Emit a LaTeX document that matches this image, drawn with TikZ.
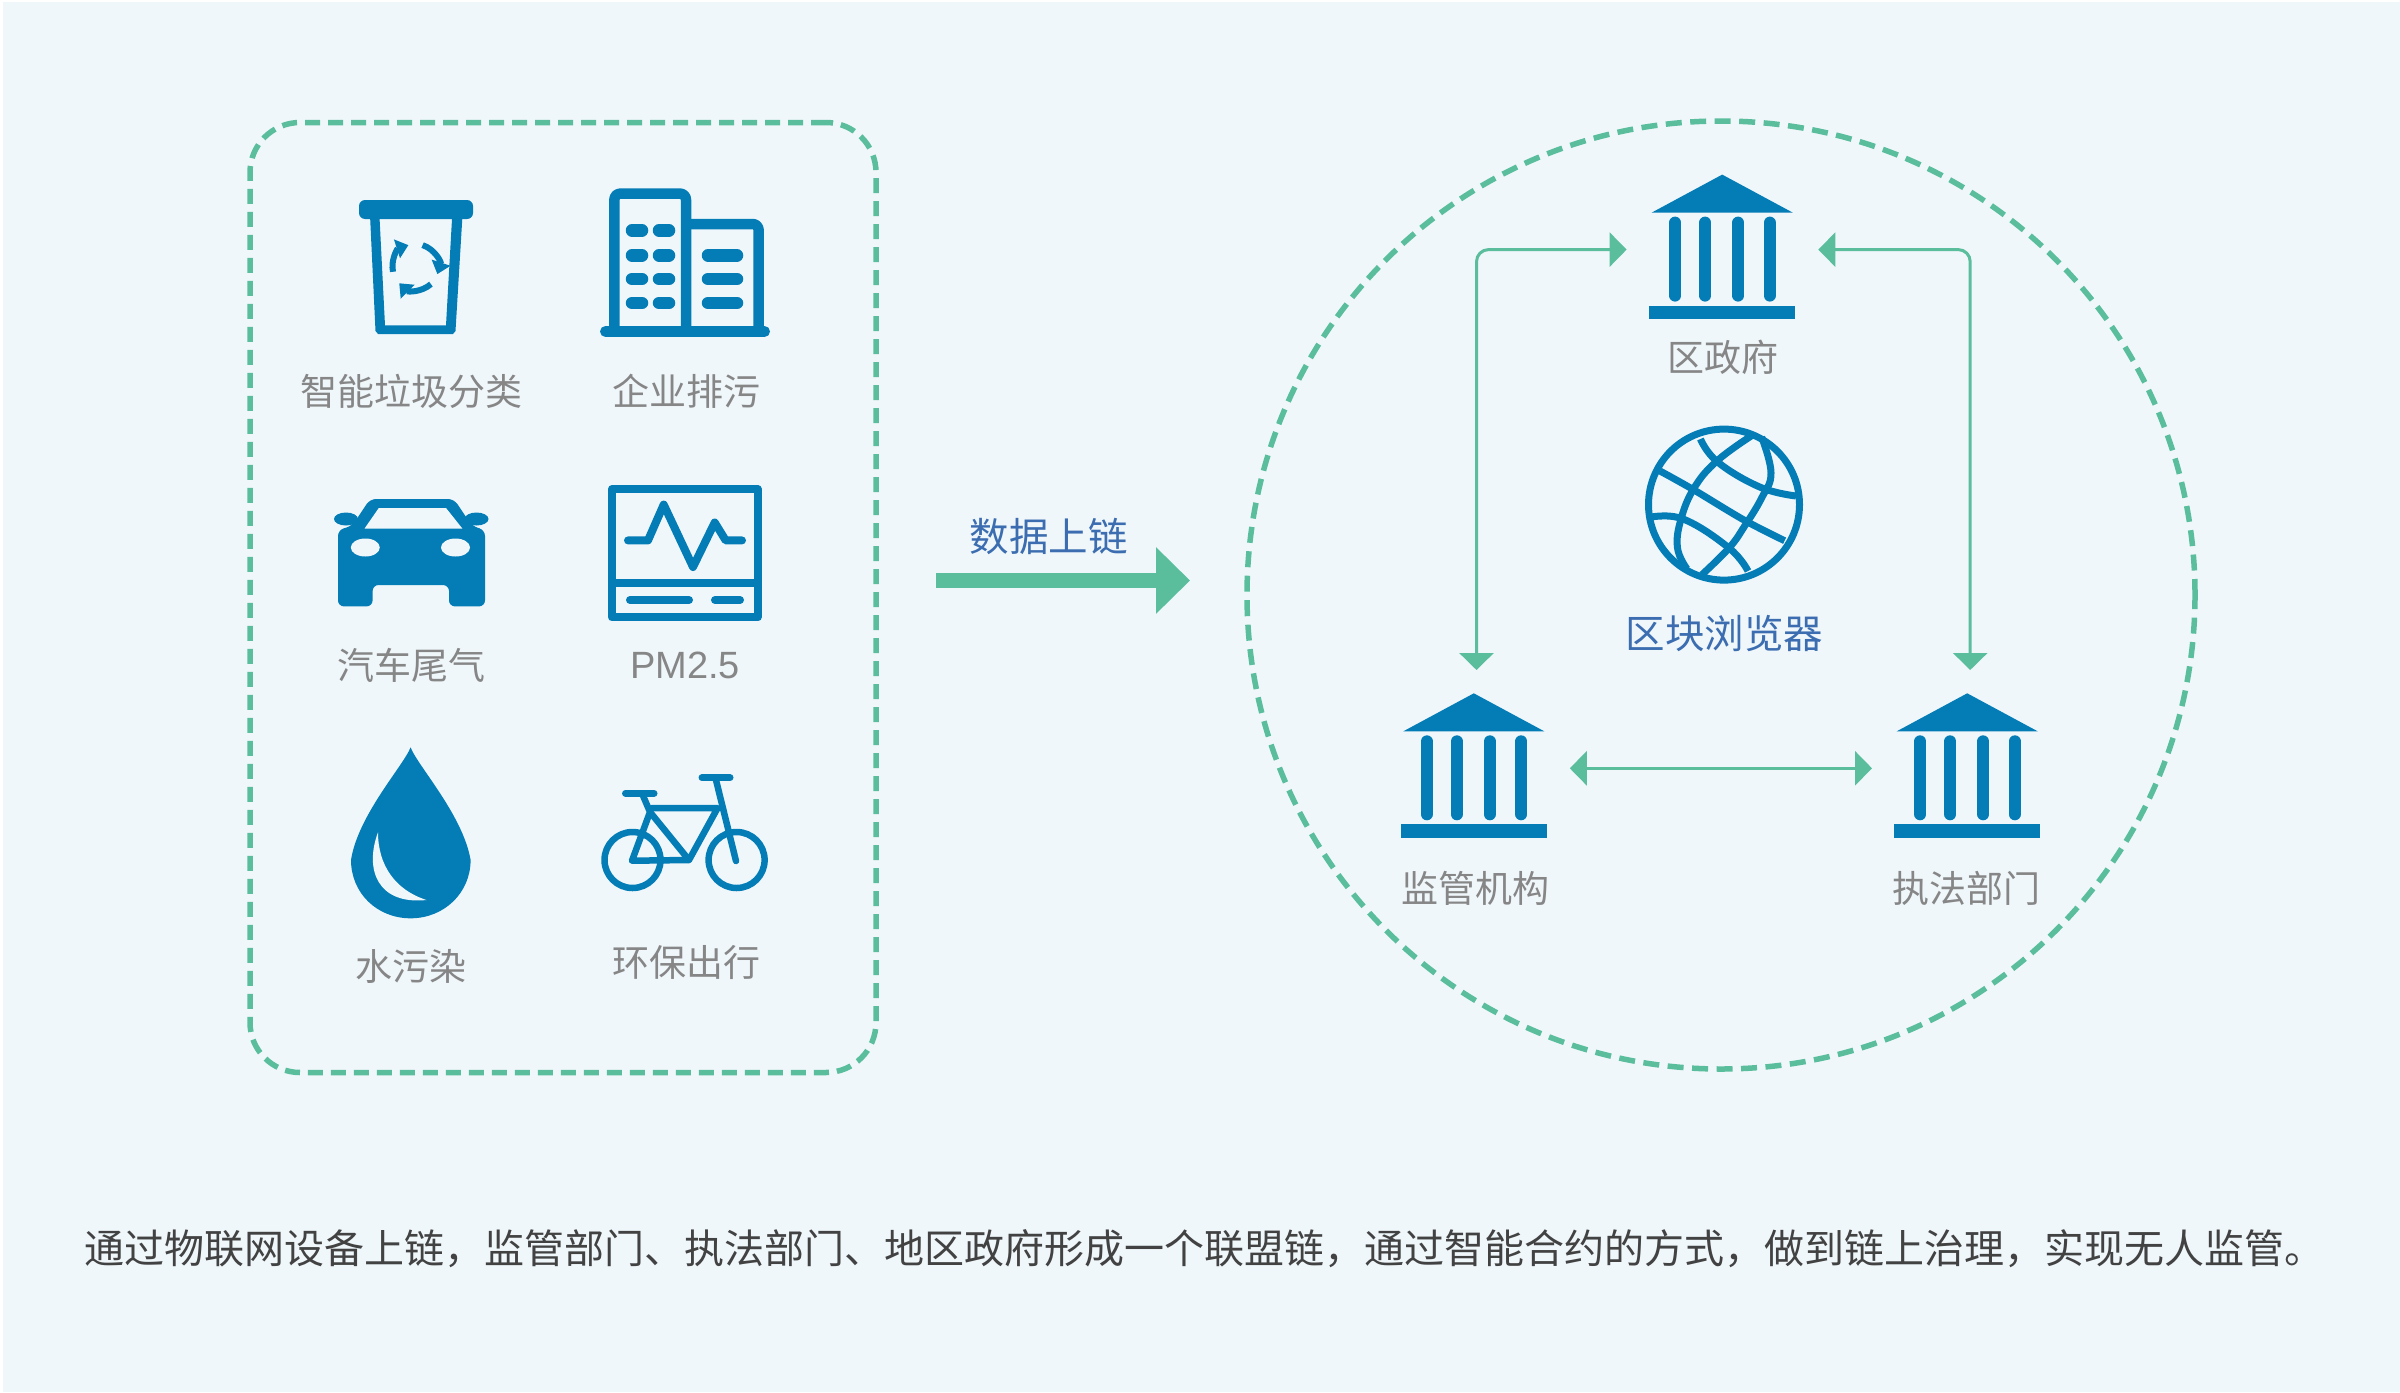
\documentclass[tikz,border=0pt]{standalone}
\usepackage{fontspec}
\setmainfont{Noto Sans CJK SC}
\newfontfamily\latinlbl{Liberation Sans}
\usetikzlibrary{arrows.meta,shapes.geometric}
\definecolor{bgc}{HTML}{EFF7FB}
\definecolor{grn}{HTML}{5ABD9B}
\definecolor{icn}{HTML}{047CB6}
\definecolor{lbl}{HTML}{868686}
\definecolor{blu}{HTML}{3B6DB0}
\definecolor{txt}{HTML}{424242}
\tikzset{
  x=1pt,y=-1pt,
  dashframe/.style={draw=grn,line width=5.5pt,dash pattern=on 15pt off 8pt,inner sep=0pt},
  link/.style={draw=grn,line width=3pt,{Triangle[length=17pt,width=34pt]}-{Triangle[length=17pt,width=34pt]}},
  iconlbl/.style={text=lbl,inner sep=0pt,font=\fontsize{37}{40}\selectfont},
  bluelbl/.style={text=blu,inner sep=0pt,font=\fontsize{39.5}{42}\selectfont},
  ic/.style={draw=icn,line join=round},
  gov/.pic={
    \fill[icn] (0,0) -- (70.5,38) -- (-70.5,38) -- cycle;
    \foreach \cx in {-47,-17,16,47.5}{\draw[icn,line width=12pt,line cap=round] (\cx,48) -- (\cx,121);}
    \fill[icn] (-73,131) rectangle (73,144.5);
  }
}
\begin{document}
\begin{tikzpicture}
\useasboundingbox (0,0) rectangle (2400,1392);
\fill[white] (0,0) rectangle (2400,1392);
\fill[bgc] (3,2) rectangle (2400,1392);

% frames
\node (leftbox) at (563,597.5) [dashframe,rounded corners=50pt,minimum width=626pt,minimum height=950pt] {};
\node (ring) at (1721,595) [dashframe,circle,minimum size=948pt,dash pattern=on 16pt off 8.5pt] {};

% bin
\fill[icn,rounded corners=6pt] (359,200) rectangle (473,219);
\fill[icn,even odd rule] (370,215) -- (375.5,331) -- (378,334) -- (453,334) -- (455.5,331) -- (462.5,215) -- cycle
  (379.6,215) -- (452,215) -- (452,219) -- (446,325.4) -- (385,325.4) -- (379.6,219) -- cycle;
\begin{scope}[line width=6pt]
\draw[icn,-{Triangle[length=12pt,width=19pt]}] ([shift={(415.5,267)}]192:23pt) arc[start angle=192,end angle=108,radius=23pt];
\draw[icn,-{Triangle[length=12pt,width=19pt]}] ([shift={(415.5,267)}]72:23pt) arc[start angle=72,end angle=-18,radius=23pt];
\draw[icn,-{Triangle[length=12pt,width=19pt]}] ([shift={(415.5,267)}]-48:23pt) arc[start angle=-48,end angle=-135,radius=23pt];
\end{scope}
\node (lbin) at (411.5,391) [iconlbl] {智能垃圾分类};

% building
\draw[ic,line width=10.5pt,rounded corners=6pt] (614.4,332) -- (614.4,193.6) -- (686,193.6) -- (686,332);
\draw[ic,line width=10.5pt,rounded corners=6pt] (686,224) -- (758.6,224) -- (758.6,332);
\draw[ic,line width=11pt,line cap=round] (605.5,331.5) -- (764.5,331.5);
\foreach \wy in {230.4,255.4,279,303}{
  \draw[ic,line width=12.5pt,line cap=round] (632,\wy) -- (642,\wy);
  \draw[ic,line width=12.5pt,line cap=round] (659,\wy) -- (669,\wy);
}
\foreach \wy in {255.4,279,303}{
  \draw[ic,line width=12.5pt,line cap=round] (708,\wy) -- (737,\wy);
}
\node (lbld) at (686,391) [iconlbl] {企业排污};

% car
\fill[icn,rounded corners=6pt] (338,548) -- (338,530) -- (352,526) -- (370,499) -- (454,499) -- (472,526) -- (485,530) -- (485,606.4) -- (449,606.4) -- (449,585) -- (372.6,585) -- (372.6,606.4) -- (338,606.4) -- cycle;
\fill[icn] (346,519) ellipse [x radius=12pt,y radius=6.5pt];
\fill[icn] (476.5,519) ellipse [x radius=12pt,y radius=6.5pt];
\fill[bgc] (378.8,508) -- (446,508) -- (462.4,528.6) -- (364.5,528.6) -- cycle;
\fill[bgc] (365.3,547.5) ellipse [x radius=14.5pt,y radius=9pt];
\fill[bgc] (455.5,547.5) ellipse [x radius=14.5pt,y radius=9pt];
\node (lcar) at (411,665) [iconlbl] {汽车尾气};

% monitor
\draw[ic,line width=8pt] (612,489) rectangle (757.6,617.4);
\draw[ic,line width=8pt] (612,583) -- (757.6,583);
\draw[ic,line width=8pt,line cap=round] (628,540.4) -- (648,540.4) -- (663.7,504.6) -- (693,567) -- (714.7,522.5) -- (725.7,540.4) -- (742,540.4);
\draw[ic,line width=8pt,line cap=round] (630,600) -- (689,600);
\draw[ic,line width=8pt,line cap=round] (715,600) -- (740,600);
\node (lpm) at (685,665) [iconlbl,font=\latinlbl\fontsize{38}{40}\selectfont] {PM2.5};

% drop
\fill[icn] (410.6,747.3) .. controls (404,765) and (358,815) .. (351,860)
  .. controls (351,893) and (377,918.3) .. (410.6,918.3)
  .. controls (444,918.3) and (470.6,893) .. (470.6,860)
  .. controls (463,815) and (417,765) .. (410.6,747.3) -- cycle;
\fill[bgc] (378,832.3) .. controls (364,870) and (378,905) .. (426.5,900)
  .. controls (395,890) and (378,865) .. (378,832.3) -- cycle;
\node (ldrop) at (411,966.7) [iconlbl] {水污染};

% bicycle
\draw[ic,line width=6.5pt] (632.5,860) circle [radius=28pt];
\draw[ic,line width=6.5pt] (736.6,860) circle [radius=28pt];
\draw[ic,line width=6.5pt,line cap=round] (642,793.3) -- (650,812) -- (689,860) -- (632,860.7) -- (650,812);
\draw[ic,line width=6.5pt,line cap=round] (652,808) -- (717.6,808) -- (689,860);
\draw[ic,line width=6.5pt,line cap=round] (715.5,778) -- (736,861);
\draw[ic,line width=7pt,line cap=round] (702,777.7) -- (730,777.7);
\draw[ic,line width=7pt,line cap=round] (625.5,793.3) -- (654,793.3);
\node (lbike) at (686,962.5) [iconlbl] {环保出行};

% flow arrow
\coordinate (flowa) at (936,580.5);
\coordinate (flowb) at (1190,580.5);
\draw[grn,line width=14.4pt,-{Triangle[length=34pt,width=64.6pt]}] (flowa) -- (flowb);
\node (lflow) at (1048.7,536) [bluelbl] {数据上链};

% government icons
\pic at (1722.2,174.6) {gov};
\pic at (1473.8,693.3) {gov};
\pic at (1967.2,693.3) {gov};
\node (lgov) at (1723.4,357) [iconlbl] {区政府};
\node (lsup) at (1475,888) [iconlbl] {监管机构};
\node (lenf) at (1966.5,888) [iconlbl] {执法部门};

% globe
\begin{scope}[icn,line width=7pt]
\draw (1724,504.6) circle [radius=75.5pt];
\draw plot[smooth,tension=.6] coordinates {(1660,471) (1694,490) (1744,520) (1784.6,540.7)};
\draw plot[smooth,tension=.7] coordinates {(1700.4,439) (1717.6,462) (1759.7,487) (1796,496)};
\draw plot[smooth,tension=.7] coordinates {(1648.8,517.5) (1683,519) (1729,548) (1748,571)};
\draw plot[smooth,tension=.7] coordinates {(1752,435.4) (1717.6,460.4) (1694.7,487) (1681,519) (1677.5,548) (1687,569)};
\draw plot[smooth,tension=.7] coordinates {(1761.6,437) (1771,473) (1761.6,498) (1744.4,526.4) (1729,548) (1702,574.6)};
\end{scope}
\node (lbrow) at (1724.6,633.6) [bluelbl] {区块浏览器};

% connectors
\coordinate (gl) at (1626.6,249.6);
\coordinate (gr) at (1818.3,249.6);
\coordinate (ml) at (1476.5,670);
\coordinate (er) at (1970.2,670);
\coordinate (ma) at (1569.8,768.3);
\coordinate (ea) at (1872,768.3);
\draw[link,rounded corners=12pt] (ml) |- (gl);
\draw[link,rounded corners=12pt] (er) |- (gr);
\draw[link] (ma) -- (ea);

% caption
\node (cap) at (84,1249) [anchor=west,inner sep=0pt,text=txt,font=\fontsize{40}{44}\selectfont] {通过物联网设备上链，监管部门、执法部门、地区政府形成一个联盟链，通过智能合约的方式，做到链上治理，实现无人监管。};
\end{tikzpicture}
\end{document}
